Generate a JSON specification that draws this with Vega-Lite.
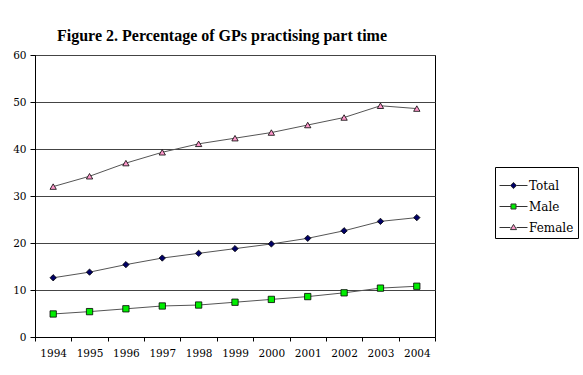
{
  "$schema": "https://vega.github.io/schema/vega-lite/v6.json",
  "autosize": "none",
  "width": 400,
  "height": 282,
  "padding": {"left": 35, "top": 55, "right": 148, "bottom": 38},
  "background": "white",
  "title": {"text": "Figure 2. Percentage of GPs practising part time", "font": "Liberation Serif", "fontSize": 16, "fontWeight": "bold", "color": "black", "anchor": "middle", "dx": -13, "offset": 6},
  "config": {"view": {"stroke": "black", "strokeWidth": 1}},
  "data": {"values": [
    {"year": "1994", "series": "Total", "value": 12.6},
    {"year": "1995", "series": "Total", "value": 13.8},
    {"year": "1996", "series": "Total", "value": 15.4},
    {"year": "1997", "series": "Total", "value": 16.8},
    {"year": "1998", "series": "Total", "value": 17.8},
    {"year": "1999", "series": "Total", "value": 18.8},
    {"year": "2000", "series": "Total", "value": 19.8},
    {"year": "2001", "series": "Total", "value": 21.0},
    {"year": "2002", "series": "Total", "value": 22.6},
    {"year": "2003", "series": "Total", "value": 24.6},
    {"year": "2004", "series": "Total", "value": 25.4},
    {"year": "1994", "series": "Male", "value": 4.9},
    {"year": "1995", "series": "Male", "value": 5.4},
    {"year": "1996", "series": "Male", "value": 6.0},
    {"year": "1997", "series": "Male", "value": 6.6},
    {"year": "1998", "series": "Male", "value": 6.8},
    {"year": "1999", "series": "Male", "value": 7.4},
    {"year": "2000", "series": "Male", "value": 8.0},
    {"year": "2001", "series": "Male", "value": 8.6},
    {"year": "2002", "series": "Male", "value": 9.4},
    {"year": "2003", "series": "Male", "value": 10.4},
    {"year": "2004", "series": "Male", "value": 10.8},
    {"year": "1994", "series": "Female", "value": 32.0},
    {"year": "1995", "series": "Female", "value": 34.2},
    {"year": "1996", "series": "Female", "value": 37.0},
    {"year": "1997", "series": "Female", "value": 39.3},
    {"year": "1998", "series": "Female", "value": 41.1},
    {"year": "1999", "series": "Female", "value": 42.3},
    {"year": "2000", "series": "Female", "value": 43.5},
    {"year": "2001", "series": "Female", "value": 45.1},
    {"year": "2002", "series": "Female", "value": 46.7},
    {"year": "2003", "series": "Female", "value": 49.2},
    {"year": "2004", "series": "Female", "value": 48.6}
  ]},
  "encoding": {
    "x": {"field": "year", "type": "ordinal", "title": null,
      "scale": {"paddingInner": 0, "paddingOuter": 0},
      "axis": {"tickBand": "extent", "labelAngle": 0, "labelFont": "DejaVu Serif", "labelFontSize": 10.5, "labelColor": "black", "domainColor": "black", "tickColor": "black", "tickSize": 4, "labelPadding": 7, "grid": false}},
    "y": {"field": "value", "type": "quantitative", "title": null,
      "scale": {"domain": [0, 60]},
      "axis": {"values": [0, 10, 20, 30, 40, 50, 60], "labelFont": "DejaVu Serif", "labelFontSize": 10.5, "labelColor": "black", "domainColor": "black", "tickColor": "black", "tickSize": 5, "labelPadding": 4, "grid": true, "gridColor": "#444", "gridWidth": 1, "gridOpacity": 1}}
  },
  "layer": [
    {"mark": {"type": "line", "color": "#555", "strokeWidth": 1},
     "encoding": {"detail": {"field": "series"}}},
    {"mark": {"type": "point", "filled": true, "opacity": 1, "size": 40, "stroke": "black", "strokeWidth": 0.8},
     "encoding": {
       "shape": {"field": "series", "scale": {"domain": ["Total", "Male", "Female"], "range": ["diamond", "square", "triangle-up"]}, "legend": null},
       "fill": {"field": "series", "scale": {"domain": ["Total", "Male", "Female"], "range": ["#000066", "#00ee00", "#ff99cc"]}, "legend": null}
     }},
    {"transform": [{"filter": "datum.value < 0"}],
     "mark": {"type": "point", "filled": true, "opacity": 1, "size": 784, "stroke": "#333", "strokeWidth": 1},
     "encoding": {
       "shape": {"field": "series", "scale": {"domain": ["Total", "Male", "Female"], "range": [
         "M-1,0H-0.22M0.22,0H1M-0.22,0L0,-0.22L0.22,0L0,0.22Z",
         "M-1,0H-0.18M0.18,0H1M-0.18,-0.18H0.18V0.18H-0.18Z",
         "M-1,0H-0.22M0.22,0H1M-0.22,0.15L0,-0.22L0.22,0.15Z"]},
         "legend": {"title": null, "orient": "none", "legendX": 460, "legendY": 112, "strokeColor": "black", "padding": 4, "labelFont": "DejaVu Serif", "labelFontSize": 12, "labelColor": "black", "symbolSize": 784, "symbolStrokeWidth": 1, "rowPadding": -8, "labelOffset": 1, "symbolOpacity": 1}},
       "fill": {"field": "series", "scale": {"domain": ["Total", "Male", "Female"], "range": ["#000066", "#00ee00", "#ff99cc"]}}
     }}
  ],
  "resolve": {"scale": {"shape": "independent", "fill": "independent"}}
}
